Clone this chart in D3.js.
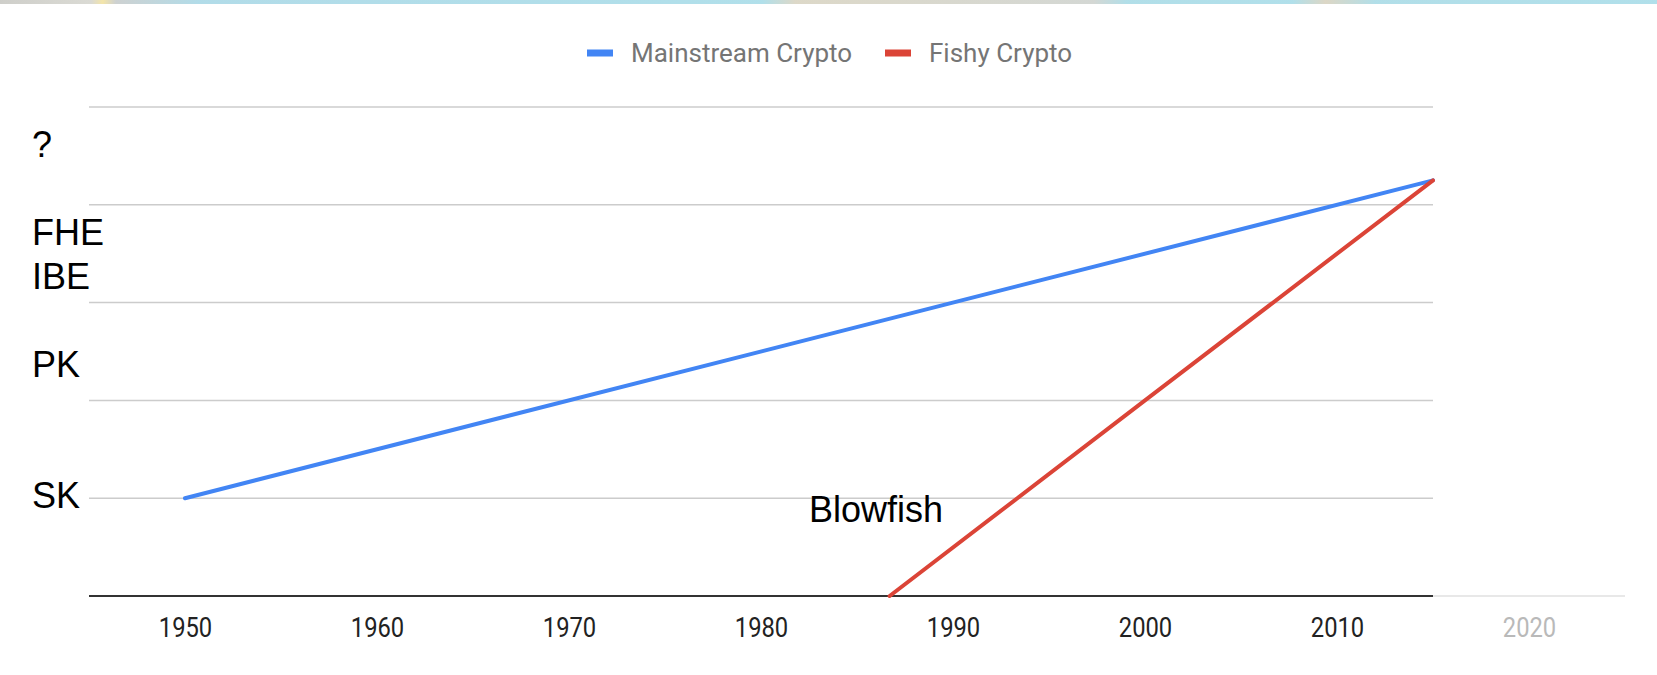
<!DOCTYPE html>
<html>
<head>
<meta charset="utf-8">
<script src="https://cdn.jsdelivr.net/npm/d3@7"></script>
<style>
  html, body { margin: 0; padding: 0; background: #fff; }
  svg { display: block; }
</style>
</head>
<body>
<svg id="chart" width="1657" height="675"></svg>
<script>
// Axis ticks (years)
const tickYears = [1950, 1960, 1970, 1980, 1990, 2000, 2010, 2020];
const gridLevels = [1, 2, 3, 4, 5];

// Series
const seriesNames = ["Mainstream Crypto", "Fishy Crypto"];
const seriesColors = ["#4285F4", "#DB4437"];
const mainstreamYears = [1950, 2015];
const mainstreamValues = [1, 4.25];
const fishyYears = [1986.7, 2000, 2015];
const fishyValues = [0, 2, 4.25];

// Text labels on the levels
const levelTexts = ["?", "FHE", "IBE", "PK", "SK"];
const levelTextValues = [4.62, 3.72, 3.27, 2.37, 1.03];
const noteText = "Blowfish";
const noteYear = 1982.5;
const noteValue = 0.89;

const svg = d3.select("#chart");
const W = 1657, H = 675;

const x = d3.scaleLinear().domain([1945, 2025]).range([89, 1625]);
const y = d3.scaleLinear().domain([0, 5]).range([596, 107]);
const lastYear = 2015;

// thin coloured strip along the top edge
const defs = svg.append("defs");
const grad = defs.append("linearGradient").attr("id", "topStrip");
[[0, "#c9c9c4"], [0.055, "#d6d6cf"], [0.062, "#f2e2a0"], [0.07, "#c8cccc"], [0.12, "#a9d8e6"],
 [0.46, "#a8dce8"], [0.48, "#d9d4c2"], [0.66, "#cfd3cf"], [0.68, "#a9dbe6"], [0.78, "#a8dce8"],
 [0.8, "#d8d2bf"], [0.83, "#a9dbe6"], [1, "#a8dce8"]]
  .forEach(([o, c]) => grad.append("stop").attr("offset", o).attr("stop-color", c));
svg.append("rect").attr("x", 0).attr("y", 0).attr("width", W).attr("height", 4)
  .attr("fill", "url(#topStrip)").attr("opacity", 0.9);

// horizontal gridlines
svg.append("g").selectAll("line").data(gridLevels).join("line")
  .attr("x1", x(1945)).attr("x2", x(lastYear))
  .attr("y1", d => y(d)).attr("y2", d => y(d))
  .attr("stroke", "#cccccc").attr("stroke-width", 1.5);

// baseline: dark over the data span, pale beyond it
svg.append("line")
  .attr("x1", x(1945)).attr("x2", x(lastYear)).attr("y1", y(0)).attr("y2", y(0))
  .attr("stroke", "#333").attr("stroke-width", 2);
svg.append("line")
  .attr("x1", x(lastYear)).attr("x2", x(2025)).attr("y1", y(0)).attr("y2", y(0))
  .attr("stroke", "#e8e8e8").attr("stroke-width", 2);

// x axis labels (narrow digits)
const xAxis = d3.axisBottom(x).tickValues(tickYears).tickFormat(d3.format("d")).tickSize(0).tickPadding(0);
const gx = svg.append("g").attr("transform", `translate(0,${y(0)})`).call(xAxis);
gx.select(".domain").remove();
gx.selectAll(".tick text")
  .attr("y", 41.5)
  .attr("dy", 0)
  .attr("font-family", "Roboto, 'Noto Sans', sans-serif")
  .attr("font-size", 27)
  .attr("fill", d => d > lastYear ? "#b9b9b9" : "#222")
  .attr("transform", "scale(0.88,1)");

// lines
const line = d3.line().x(d => x(d[0])).y(d => y(d[1]));
const seriesData = [
  d3.zip(mainstreamYears, mainstreamValues),
  d3.zip(fishyYears, fishyValues)
];
svg.append("g").selectAll("path").data(seriesData).join("path")
  .attr("d", line)
  .attr("fill", "none")
  .attr("stroke", (d, i) => seriesColors[i])
  .attr("stroke-width", 4)
  .attr("stroke-linecap", "round");

// legend
const legendX = [587, 885];
const lg = svg.append("g").selectAll("g").data(seriesNames).join("g")
  .attr("transform", (d, i) => `translate(${legendX[i]},53)`);
lg.append("rect").attr("x", 0).attr("y", -3.5).attr("width", 26).attr("height", 7)
  .attr("fill", (d, i) => seriesColors[i]);
lg.append("text").attr("x", 44).attr("y", 9)
  .attr("font-family", "Roboto, 'Noto Sans', sans-serif")
  .attr("font-size", 26)
  .attr("fill", "#757575")
  .text(d => d);

// level labels on the left
svg.append("g").selectAll("text").data(levelTexts).join("text")
  .attr("x", 32)
  .attr("y", (d, i) => y(levelTextValues[i]) + 12.8)
  .attr("font-family", "'Liberation Sans', Arial, sans-serif")
  .attr("font-size", 36)
  .attr("fill", "#000")
  .text(d => d);

// annotation
svg.append("text")
  .attr("x", x(noteYear)).attr("y", y(noteValue) + 12.8)
  .attr("font-family", "'Liberation Sans', Arial, sans-serif")
  .attr("font-size", 36)
  .attr("fill", "#000")
  .text(noteText);
</script>
</body>
</html>
